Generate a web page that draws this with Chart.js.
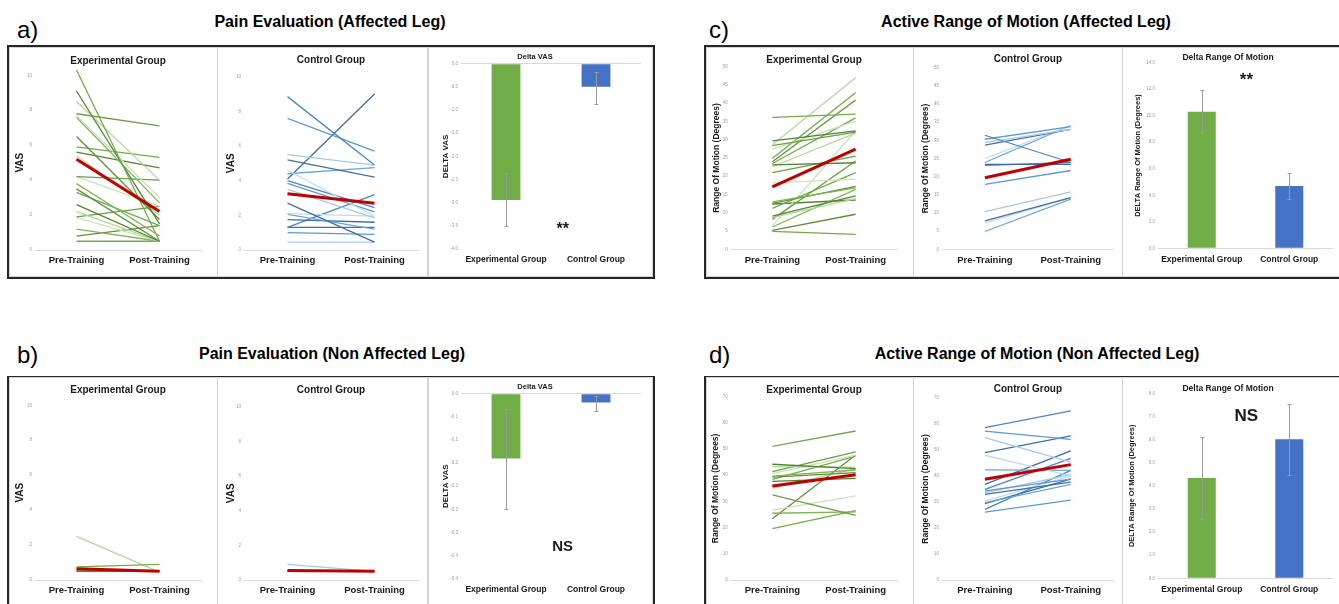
<!DOCTYPE html>
<html>
<head>
<meta charset="utf-8">
<script src="https://cdn.jsdelivr.net/npm/chart.js@4.4.0/dist/chart.umd.min.js"></script>
<style>
body { margin: 0; width: 1339px; height: 604px; overflow: hidden; background: #fff; position: relative;
  font-family: "Liberation Sans", Arial, sans-serif; color: #000; }
.letter { position: absolute; font-size: 24px; line-height: 28px; }
.head { position: absolute; font-size: 16px; font-weight: bold; line-height: 20px; transform: translateX(-50%); white-space: nowrap; }
.box { position: absolute; border: 2px solid #262626; box-sizing: border-box; }
.cell { position: absolute; border: 1px solid #d4d4d4; box-sizing: border-box; }
.cell canvas { position: absolute; left: 0; top: 0; }
</style>
</head>
<body>
<div class="box" style="left:7px;top:45px;width:648px;height:234px"></div>
<div class="box" style="left:704px;top:45px;width:660px;height:234px"></div>
<div class="box" style="left:7px;top:376px;width:648px;height:240px"></div>
<div class="box" style="left:704px;top:376px;width:660px;height:240px"></div>

<div class="letter" style="left:17px;top:16px">a)</div>
<div class="head" style="left:330px;top:12px">Pain Evaluation (Affected Leg)</div>
<div class="letter" style="left:709px;top:16px">c)</div>
<div class="head" style="left:1026px;top:12px">Active Range of Motion (Affected Leg)</div>
<div class="letter" style="left:17px;top:341px">b)</div>
<div class="head" style="left:332px;top:344px">Pain Evaluation (Non Affected Leg)</div>
<div class="letter" style="left:709px;top:341px">d)</div>
<div class="head" style="left:1037px;top:344px">Active Range of Motion (Non Affected Leg)</div>

<script>
// categories
var phases = ['Pre-Training', 'Post-Training'];
var groups = ['Experimental Group', 'Control Group'];

// a) pain, affected leg
var aExpPre  = [10.3, 9.1, 8.5, 7.8, 7.7, 7.6, 6.5, 5.9, 5.6, 5.4, 4.2, 4.2, 3.8, 3.5, 3.3, 2.6, 2.2, 1.9, 1.85, 1.2, 0.8, 0.5];
var aExpPost = [0.5, 1.5, 4.0, 7.1, 3.0, 2.7, 1.75, 5.3, 4.7, 2.0, 4.0, 2.5, 0.8, 0.5, 1.4, 0.5, 0.5, 2.5, 0.5, 0.5, 1.4, 0.5];
var aExpMean = [5.2, 2.2];
var aCtlPre  = [8.85, 7.6, 5.5, 5.2, 4.6, 4.4, 4.1, 4.0, 3.85, 3.5, 2.7, 2.1, 2.05, 1.75, 1.3, 1.0, 0.45, 1.3];
var aCtlPost = [4.9, 5.7, 4.9, 4.2, 1.95, 4.75, 9.0, 2.45, 2.2, 1.85, 0.45, 1.95, 1.2, 1.6, 3.2, 0.9, 0.45, 1.3];
var aCtlMean = [3.25, 2.7];
var aDelta     = [-2.94, -0.5];
var aDeltaLow  = [-3.51, -0.86];
var aDeltaHigh = [-2.37, -0.18];

// b) pain, non affected leg
var bExpPre  = [0.75, 0.5, 2.5, 0.5, 0.5, 0.5];
var bExpPost = [0.9, 0.5, 0.45, 0.5, 0.5, 0.5];
var bExpMean = [0.65, 0.5];
var bCtlPre  = [0.5, 0.5, 0.9, 0.5];
var bCtlPost = [0.5, 0.5, 0.5, 0.5];
var bCtlMean = [0.55, 0.5];
var bDelta     = [-0.14, -0.019];
var bDeltaLow  = [-0.25, -0.037];
var bDeltaHigh = [-0.032, -0.004];
var bDeltaTicks = ['-0.4', '-0.4', '-0.3', '-0.3', '-0.2', '-0.2', '-0.1', '-0.1', '0.0'];

// c) range of motion, affected leg
var cExpPre  = [36.1, 29.7, 28.6, 28.4, 27.4, 24.9, 24.0, 23.5, 23.1, 22.6, 21.0, 18.2, 13.0, 12.6, 11.2, 9.1, 8.7, 8.2, 6.4, 6.1, 5.2, 4.9, 12.4];
var cExpPost = [37.0, 32.4, 47.0, 32.1, 35.1, 42.9, 40.9, 36.0, 23.7, 31.8, 25.5, 19.2, 16.8, 17.2, 21.0, 14.6, 13.9, 24.2, 32.4, 16.4, 9.6, 4.1, 13.5];
var cExpMean = [17.1, 27.4];
var cCtlPre  = [31.4, 30.3, 29.4, 28.7, 25.0, 23.9, 23.4, 23.1, 17.9, 10.4, 7.8, 7.3, 4.9];
var cCtlPost = [23.9, 33.8, 33.0, 33.0, 34.1, 34.1, 23.4, 23.9, 21.7, 15.8, 14.2, 14.2, 13.8];
var cCtlMean = [19.7, 24.8];
var cDelta     = [10.3, 4.7];
var cDeltaLow  = [8.67, 3.7];
var cDeltaHigh = [11.96, 5.7];

// d) range of motion, non affected leg
var dExpPre  = [51.0, 44.2, 43.3, 41.4, 40.6, 39.7, 39.3, 38.4, 37.7, 35.0, 32.5, 26.7, 25.5, 23.4, 19.6];
var dExpPost = [56.9, 42.5, 43.1, 48.9, 47.7, 42.0, 41.0, 47.3, 38.8, 42.5, 24.7, 32.1, 26.0, 47.7, 26.5];
var dExpMean = [35.9, 40.2];
var dCtlPre  = [58.5, 57.2, 54.7, 48.9, 47.9, 42.3, 36.7, 34.8, 34.2, 33.5, 32.9, 30.3, 29.7, 29.3, 27.1, 26.1];
var dCtlPost = [64.9, 54.0, 45.3, 55.3, 40.0, 42.1, 49.6, 46.7, 38.7, 40.5, 37.6, 40.0, 36.7, 38.7, 42.1, 30.7];
var dCtlMean = [38.7, 44.3];
var dDelta     = [4.34, 6.01];
var dDeltaLow  = [2.55, 4.48];
var dDeltaHigh = [6.11, 7.52];

var greens = ['#70ad47', '#548235', '#b4d89c', '#6a9f45', '#c9e3b8', '#7fb556', '#5e8f3c'];
var blues  = ['#4a86c5', '#5b9bd5', '#a7c9e8', '#41719c', '#c2daf0', '#6ea6da', '#3b6ea8'];
var ink = '#1a1a1a';

Chart.defaults.font.family = '"Liberation Sans", Arial, sans-serif';
Chart.defaults.animation = false;
Chart.defaults.plugins.legend.display = false;
Chart.defaults.plugins.tooltip.enabled = false;

function place(r) {
  var cell = document.createElement('div');
  cell.className = 'cell';
  cell.style.left = (r[0] - 1) + 'px';
  cell.style.top = (r[1] - 1) + 'px';
  cell.style.width = (r[2] - r[0] + 2) + 'px';
  cell.style.height = (r[3] - r[1] + 2) + 'px';
  var c = document.createElement('canvas');
  c.width = r[2] - r[0];
  c.height = r[3] - r[1];
  cell.appendChild(c);
  document.body.appendChild(cell);
  return c;
}

// paddings so that the plot area lands where it is in the figure
function frame(g, titleSize) {
  var lh = titleSize * 1.2;
  var top = g.titleY - g.rect[1] - lh / 2;
  return {
    padding: { left: 0, right: g.rect[2] - g.plot[2], top: 0, bottom: 0 },
    titlePad: { top: top, bottom: g.plot[1] - g.rect[1] - top - lh },
    yWidth: g.plot[0] - g.rect[0],
    xHeight: g.rect[3] - g.plot[3]
  };
}

function pairChart(g, title, yTitle, yTitleSize, axis, pre, post, mean, palette) {
  var f = frame(g, 10);
  var sets = [{ data: mean, borderColor: '#c00000', borderWidth: 3, clip: false }];
  for (var i = 0; i < pre.length; i++) {
    sets.push({ data: [pre[i], post[i]], borderColor: palette[i % palette.length], borderWidth: 1.3, clip: false });
  }
  new Chart(place(g.rect), {
    type: 'line',
    data: { labels: phases, datasets: sets },
    options: {
      responsive: false,
      layout: { padding: f.padding },
      elements: { point: { radius: 0 }, line: { tension: 0 } },
      plugins: {
        title: { display: true, text: title, fullSize: false, color: ink,
          font: { size: 10, weight: 'bold' }, padding: f.titlePad }
      },
      scales: {
        x: {
          offset: true,
          grid: { display: false, drawTicks: false },
          border: { color: '#d9d9d9' },
          ticks: { color: ink, font: { size: 9.5, weight: 'bold' }, padding: 5, maxRotation: 0, autoSkip: false },
          afterFit: function (s) { s.height = f.xHeight; }
        },
        y: {
          min: axis[0], max: axis[1],
          grid: { display: false, drawTicks: false },
          border: { display: false },
          ticks: { stepSize: axis[2], color: '#9a9a9a', font: { size: 4.5 }, padding: 3 },
          title: { display: true, text: yTitle, color: ink, font: { size: yTitleSize, weight: 'bold' },
            padding: { top: g.yTitleX - g.rect[0] - yTitleSize * 0.6, bottom: 0 } },
          afterFit: function (s) { s.width = f.yWidth; }
        }
      }
    }
  });
}

var errorBars = {
  id: 'errorBars',
  afterDatasetsDraw: function (chart, args, opts) {
    var y = chart.scales.y, x = chart.scales.x, ctx = chart.ctx;
    ctx.save();
    ctx.strokeStyle = '#9a9a9a';
    ctx.lineWidth = 1;
    chart.getDatasetMeta(0).data.forEach(function (bar, i) {
      var t = Math.round(y.getPixelForValue(opts.high[i])) + 0.5;
      var b = Math.round(y.getPixelForValue(opts.low[i])) + 0.5;
      var cx = Math.round(bar.x) + 0.5;
      ctx.beginPath();
      ctx.moveTo(cx, t); ctx.lineTo(cx, b);
      ctx.moveTo(cx - 2, t); ctx.lineTo(cx + 2, t);
      ctx.moveTo(cx - 2, b); ctx.lineTo(cx + 2, b);
      ctx.stroke();
    });
    if (opts.mark) {
      ctx.fillStyle = ink;
      ctx.font = 'bold ' + opts.mark.size + 'px "Liberation Sans", Arial, sans-serif';
      ctx.textAlign = 'center';
      ctx.textBaseline = 'middle';
      ctx.fillText(opts.mark.text, x.getPixelForValue(opts.mark.at[0]), y.getPixelForValue(opts.mark.at[1]));
    }
    ctx.restore();
  }
};

function deltaChart(g, title, titleSize, yTitle, yTitleSize, axis, tickText, means, low, high, mark) {
  var f = frame(g, titleSize);
  new Chart(place(g.rect), {
    type: 'bar',
    data: { labels: groups, datasets: [{
      data: means, backgroundColor: ['#70ad47', '#4472c4'],
      barPercentage: 0.32, categoryPercentage: 1
    }] },
    plugins: [errorBars],
    options: {
      responsive: false,
      layout: { padding: f.padding },
      plugins: {
        title: { display: true, text: title, color: ink, font: { size: titleSize, weight: 'bold' }, padding: f.titlePad },
        errorBars: { low: low, high: high, mark: mark }
      },
      scales: {
        x: {
          grid: { display: false, drawTicks: false },
          border: { display: false },
          ticks: { color: ink, font: { size: 8.5, weight: 'bold' }, padding: 6, maxRotation: 0, autoSkip: false },
          afterFit: function (s) { s.height = f.xHeight; }
        },
        y: {
          min: axis[0], max: axis[1],
          grid: { drawTicks: false, color: function (c) { return c.tick && Math.abs(c.tick.value) < 1e-9 ? '#d9d9d9' : 'rgba(0,0,0,0)'; } },
          border: { display: false },
          ticks: { stepSize: axis[2], color: '#9a9a9a', font: { size: 4.5 }, padding: 3, callback: tickText },
          title: { display: true, text: yTitle, color: ink, font: { size: yTitleSize, weight: 'bold' },
            padding: { top: g.yTitleX - g.rect[0] - yTitleSize * 0.6, bottom: 0 } },
          afterFit: function (s) { s.width = f.yWidth; }
        }
      }
    }
  });
}

function oneDecimal(v) { return v.toFixed(1); }

pairChart({ rect: [10, 48, 217, 276], plot: [35, 75.3, 201, 250], titleY: 61, yTitleX: 20 },
  'Experimental Group', 'VAS', 10, [0, 10, 2], aExpPre, aExpPost, aExpMean, greens);
pairChart({ rect: [218, 48, 427, 276], plot: [244, 76.7, 418, 250], titleY: 60, yTitleX: 231 },
  'Control Group', 'VAS', 10, [0, 10, 2], aCtlPre, aCtlPost, aCtlMean, blues);
deltaChart({ rect: [429, 48, 652, 276], plot: [461, 63.7, 641, 249], titleY: 57, yTitleX: 446 },
  'Delta VAS', 7.5, 'DELTA VAS', 8, [-4, 0, 0.5], oneDecimal, aDelta, aDeltaLow, aDeltaHigh,
  { text: '**', size: 16, at: [0.63, -3.59] });

pairChart({ rect: [10, 378, 217, 606], plot: [35, 405.3, 201, 580], titleY: 390, yTitleX: 20 },
  'Experimental Group', 'VAS', 10, [0, 10, 2], bExpPre, bExpPost, bExpMean, greens);
pairChart({ rect: [218, 378, 427, 606], plot: [244, 406.7, 418, 580], titleY: 390, yTitleX: 231 },
  'Control Group', 'VAS', 10, [0, 10, 2], bCtlPre, bCtlPost, bCtlMean, blues);
deltaChart({ rect: [429, 378, 652, 606], plot: [461, 393.7, 641, 578.7], titleY: 387, yTitleX: 446 },
  'Delta VAS', 7.5, 'DELTA VAS', 8, [-0.4, 0, 0.05], function (v, i) { return bDeltaTicks[i]; },
  bDelta, bDeltaLow, bDeltaHigh, { text: 'NS', size: 15, at: [0.63, -0.331] });

pairChart({ rect: [707, 48, 913, 276], plot: [730.7, 66.7, 897.3, 249.3], titleY: 60, yTitleX: 716.7 },
  'Experimental Group', 'Range Of Motion (Degrees)', 8.5, [0, 50, 5], cExpPre, cExpPost, cExpMean, greens);
pairChart({ rect: [914, 48, 1122, 276], plot: [942, 67.7, 1113.7, 249.3], titleY: 59.7, yTitleX: 926 },
  'Control Group', 'Range Of Motion (Degrees)', 8.5, [0, 50, 5], cCtlPre, cCtlPost, cCtlMean, blues);
deltaChart({ rect: [1123, 48, 1353, 276], plot: [1158, 62.7, 1333, 248.3], titleY: 57.7, yTitleX: 1138 },
  'Delta Range Of Motion', 8.5, 'DELTA Range Of Motion (Degrees)', 7.5, [0, 14, 2], oneDecimal,
  cDelta, cDeltaLow, cDeltaHigh, { text: '**', size: 17, at: [0.51, 12.7] });

pairChart({ rect: [707, 378, 913, 606], plot: [730.7, 396.7, 897.3, 580], titleY: 390, yTitleX: 715.7 },
  'Experimental Group', 'Range Of Motion (Degrees)', 8.5, [0, 70, 10], dExpPre, dExpPost, dExpMean, greens);
pairChart({ rect: [914, 378, 1122, 606], plot: [942, 397.7, 1113.7, 580], titleY: 389.7, yTitleX: 926 },
  'Control Group', 'Range Of Motion (Degrees)', 8.5, [0, 70, 10], dCtlPre, dCtlPost, dCtlMean, blues);
deltaChart({ rect: [1123, 378, 1353, 606], plot: [1158, 393.3, 1333, 578.3], titleY: 388.3, yTitleX: 1131.7 },
  'Delta Range Of Motion', 8.5, 'DELTA Range Of Motion (Degrees)', 7.5, [0, 8, 1], oneDecimal,
  dDelta, dDeltaLow, dDeltaHigh, { text: 'NS', size: 17, at: [0.51, 7.0] });
</script>
</body>
</html>
